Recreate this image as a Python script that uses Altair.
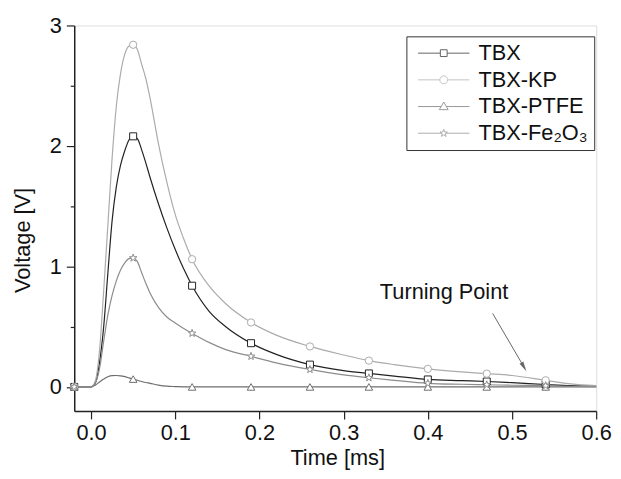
import altair as alt
import pandas as pd

FONT = "Liberation Sans"

# ---------------- data ----------------
series = ["TBX", "TBX-KP", "TBX-PTFE", "TBX-Fe₂O₃"]
line_colors = ["#222222", "#ababab", "#6e6e6e", "#8c8c8c"]

line_x = [-0.02, 0.0, 0.005, 0.01, 0.015, 0.02, 0.025, 0.03, 0.035, 0.04, 0.045,
          0.05, 0.055, 0.06, 0.065, 0.07, 0.08, 0.09, 0.10, 0.11, 0.12, 0.14,
          0.16, 0.19, 0.22, 0.26, 0.30, 0.33, 0.36, 0.40, 0.44, 0.47, 0.50,
          0.54, 0.57, 0.60]
tbx_line = [0, 0, 0.03, 0.2, 0.5, 0.95, 1.38, 1.66, 1.84, 1.96, 2.05,
            2.08, 2.06, 1.97, 1.86, 1.74, 1.52, 1.32, 1.14, 0.98, 0.84, 0.63,
            0.5, 0.363, 0.27, 0.185, 0.135, 0.112, 0.09, 0.062, 0.052, 0.045, 0.035,
            0.02, 0.01, 0.005]
kp_line = [0, 0, 0.05, 0.3, 0.8, 1.35, 1.9, 2.33, 2.6, 2.76, 2.83,
           2.84, 2.8, 2.68, 2.56, 2.4, 2.02, 1.7, 1.43, 1.23, 1.06, 0.84,
           0.69, 0.535, 0.43, 0.336, 0.265, 0.218, 0.185, 0.15, 0.125, 0.11, 0.095,
           0.055, 0.025, 0.01]
ptfe_line = [0, 0, 0.015, 0.04, 0.065, 0.085, 0.094, 0.095, 0.092, 0.085, 0.075,
             0.065, 0.055, 0.045, 0.037, 0.03, 0.015, 0.006, 0.003, 0.001, 0.0, 0.0,
             0, 0, 0, 0, 0, 0, 0, 0, 0, 0, 0,
             0, 0, 0]
fe_line = [0, 0, 0.03, 0.15, 0.38, 0.6, 0.76, 0.88, 0.97, 1.03, 1.065,
           1.07, 1.04, 0.95, 0.86, 0.78, 0.66, 0.58, 0.53, 0.485, 0.445, 0.37,
           0.31, 0.254, 0.2, 0.145, 0.1, 0.076, 0.055, 0.03, 0.022, 0.018, 0.014,
           0.01, 0.005, 0.003]

marker_x = [-0.02, 0.05, 0.12, 0.19, 0.26, 0.33, 0.40, 0.47, 0.54]
tbx_mark = [0, 2.08, 0.84, 0.363, 0.185, 0.112, 0.062, 0.045, 0.02]
kp_mark = [0, 2.84, 1.06, 0.535, 0.336, 0.218, 0.15, 0.11, 0.055]
ptfe_mark = [0, 0.065, 0.0, 0, 0, 0, 0, 0, 0]
fe_mark = [0, 1.07, 0.445, 0.254, 0.145, 0.076, 0.03, 0.018, 0.01]

x_ticks = [0.0, 0.1, 0.2, 0.3, 0.4, 0.5, 0.6]
y_ticks = [0, 0.5, 1, 1.5, 2, 2.5, 3]

note_text = ["Turning Point"]
note_x = [0.343]
note_y = [0.73]
arrow_x = [0.477]
arrow_y = [0.61]
arrow_x2 = [0.5134]
arrow_y2 = [0.175]

# ---------------- tables ----------------
line_df = pd.concat([
    pd.DataFrame({"t": line_x, "v": vals, "series": s})
    for s, vals in zip(series, [tbx_line, kp_line, ptfe_line, fe_line])
])
order_map = {"TBX-KP": 0, "TBX-Fe₂O₃": 1, "TBX-PTFE": 2, "TBX": 3}
line_df["ord"] = line_df["series"].map(order_map)
mark_df = pd.concat([
    pd.DataFrame({"t": marker_x, "v": vals, "series": s})
    for s, vals in zip(series, [tbx_mark, kp_mark, ptfe_mark, fe_mark])
])
note_df = pd.DataFrame({"t": note_x, "v": note_y, "label": note_text})
arrow_df = pd.DataFrame({"t": arrow_x, "v": arrow_y, "t2": arrow_x2, "v2": arrow_y2})
head_df = pd.DataFrame({"t": arrow_x2, "v": arrow_y2})

# ---------------- shapes ----------------
star_path = ("M0,-1L0.235,-0.324L0.951,-0.309L0.38,0.124L0.588,0.809L0,0.4"
             "L-0.588,0.809L-0.38,0.124L-0.951,-0.309L-0.235,-0.324Z")
legend_paths = [
    "M-0.74,0H2.48M3.46,0H6.69M2.48,-0.49H3.46V0.49H2.48Z",
    "M-0.74,0H2.4M3.54,0H6.69M3.54,0A0.57,0.57,0,1,1,2.4,0A0.57,0.57,0,1,1,3.54,0Z",
    "M-0.74,0H2.59M3.35,0H6.69M2.33,0.45L2.97,-0.65L3.61,0.45Z",
    "M-0.74,0H2.66M3.28,0H6.69M2.97,-0.57L3.104,-0.185L3.512,-0.176L3.187,0.071"
    "L3.305,0.461L2.97,0.228L2.635,0.461L2.753,0.071L2.428,-0.176L2.836,-0.185Z",
]
arrow_head = "M0,-1L0.35,0.6L-0.35,0.6Z"

# ---------------- scales / axes ----------------
xscale = alt.Scale(domain=[-0.02, 0.6], nice=False, zero=False)
yscale = alt.Scale(domain=[-0.2, 3], nice=False, zero=False)

xaxis = alt.Axis(values=x_ticks, format=".1f", grid=False, tickSize=8, tickWidth=1.2,
                 tickColor="#222", domainColor="#222", domainWidth=1.5,
                 labelFont=FONT, labelFontSize=22, labelColor="#111", labelPadding=21,
                 labelBaseline="alphabetic", labelFlush=False, labelOverlap=False,
                 title="Time [ms]", titleFont=FONT, titleFontSize=22,
                 titleFontWeight="normal", titleColor="#111", titleX=266, titleY=54,
                 titleBaseline="alphabetic", titleAlign="center")
yaxis = alt.Axis(values=y_ticks, grid=False,
                 labelExpr="datum.value % 1 === 0 ? format(datum.value, 'd') : ''",
                 tickSize={"condition": {"test": "datum.value % 1 !== 0", "value": 4}, "value": 8},
                 tickWidth=1.2, tickColor="#222", domainColor="#222", domainWidth=1.5,
                 labelFont=FONT, labelFontSize=22, labelColor="#111", labelPadding=5,
                 labelBaseline="middle", labelFlush=False, labelOverlap=False,
                 title="Voltage [V]", titleFont=FONT, titleFontSize=22,
                 titleFontWeight="normal", titleColor="#111", titleAngle=270,
                 titleX=-52, titleY=217, titleAlign="center", titleBaseline="middle")

X = alt.X("t:Q", scale=xscale, axis=xaxis)
Y = alt.Y("v:Q", scale=yscale, axis=yaxis)

legend = alt.Legend(orient="none", legendX=336, legendY=11, title=None, padding=6,
                    strokeColor="#333", fillColor="white", symbolSize=196,
                    symbolStrokeWidth=1, labelFont=FONT, labelFontSize=22,
                    labelColor="#111", labelOffset=45, rowPadding=5, labelLimit=300)

lines = alt.Chart(line_df).mark_line(interpolate="monotone", strokeWidth=1.2).encode(
    x=X, y=Y,
    color=alt.Color("series:N", scale=alt.Scale(domain=series, range=line_colors), legend=None),
    order=alt.Order("ord:Q"),
)

markers = alt.Chart(mark_df).mark_point(filled=False, fill="white", fillOpacity=1,
                                        strokeWidth=1, opacity=1).encode(
    x=X, y=Y,
    color=alt.Color("series:N", scale=alt.Scale(domain=series, range=line_colors), legend=None),
    shape=alt.Shape("series:N", scale=alt.Scale(domain=series,
                    range=["square", "circle", "triangle-up", star_path]), legend=None),
    size=alt.Size("series:N", scale=alt.Scale(domain=series, range=[50, 64, 70, 72]), legend=None),
)

legend_layer = alt.Chart(mark_df).transform_filter("datum.t > 10").mark_point(
    filled=False).encode(
    x=X, y=Y,
    color=alt.Color("series:N", scale=alt.Scale(domain=series, range=line_colors), legend=legend),
    shape=alt.Shape("series:N", scale=alt.Scale(domain=series, range=legend_paths), legend=legend),
)

note = alt.Chart(note_df).mark_text(align="left", baseline="alphabetic", font=FONT,
                                    fontSize=22, color="#111").encode(x=X, y=Y, text="label:N")

arrow = alt.Chart(arrow_df).mark_rule(color="#666", strokeWidth=1).encode(
    x=X, y=Y, x2="t2:Q", y2="v2:Q")

head = alt.Chart(head_df).mark_point(shape=arrow_head, filled=True, color="#666",
                                     size=156, angle=150, opacity=1).encode(x=X, y=Y)

chart = alt.layer(lines, markers, legend_layer, arrow, head, note).resolve_scale(
    color="independent", shape="independent", size="independent"
).properties(
    width=528, height=390,
    autosize=alt.AutoSizeParams(type="none"),
    padding={"left": 67, "top": 15, "right": 17, "bottom": 58},
).configure_view(stroke="#333", strokeWidth=1.5).configure(background="white")

chart.save("out.html", embed_options={"renderer": "svg", "actions": False})
